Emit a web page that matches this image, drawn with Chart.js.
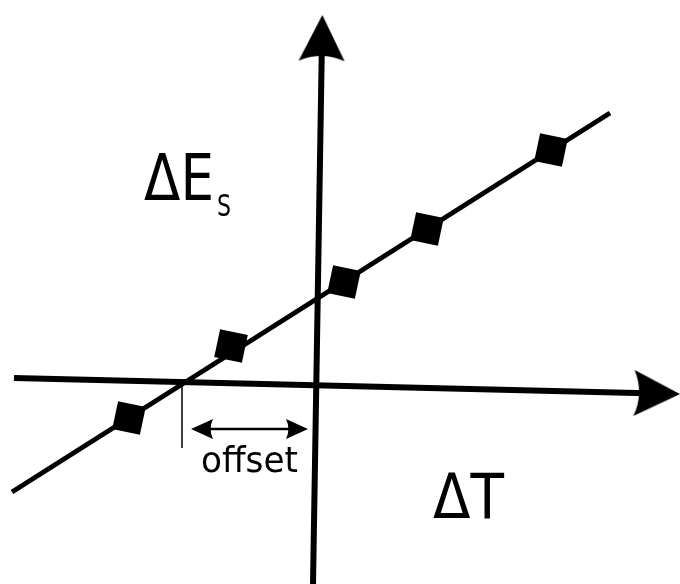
<!DOCTYPE html>
<html>
<head>
<meta charset="utf-8">
<script src="https://cdn.jsdelivr.net/npm/chart.js@4/dist/chart.umd.min.js"></script>
<style>
    body { margin: 0; background: #fff; }
    #wrap { width: 680px; height: 584px; }
</style>
</head>
<body>
<div id="wrap"><canvas id="offsetChart" width="680" height="584"></canvas></div>
<script>
// Dữ liệu đo (ΔT, ΔE_S) - đơn vị tùy ý, gốc ở giao điểm hai trục
const deltaT = [-1.88, -0.86, 0.27, 1.10, 2.34];
const deltaEs = [-0.35, 0.37, 1.01, 1.54, 2.33];

// Đường thẳng khớp
const fitT = [-3.05, 2.93];
const fitE = [-1.09, 2.70];

// Hai trục (hơi nghiêng như bản quét)
const xAxisT = [-3.03, 3.40];
const xAxisE = [0.05, -0.105];
const yAxisT = [-0.04, 0.05];
const yAxisE = [-2.01, 3.45];

// Chú thích "offset"
const offsetTickT = [-1.35, -1.35];
const offsetTickE = [-0.02, -0.65];
const offsetArrowT = [-1.15, -0.20];
const offsetArrowE = [-0.46, -0.46];

// Giới hạn vùng vẽ
const tRange = [-3.17, 3.63];
const eRange = [-2.01, 3.83];

function pairs(xs, ys) {
    return xs.map((x, i) => ({ x: x, y: ys[i] }));
}

// Đầu mũi tên có đuôi lõm, hướng sang phải
function makeArrowHead(len, wid) {
    const c = document.createElement('canvas');
    c.width = len;
    c.height = wid;
    const g = c.getContext('2d');
    g.fillStyle = '#000';
    g.beginPath();
    g.moveTo(len, wid / 2);
    g.lineTo(0, 0);
    g.quadraticCurveTo(len * 0.22, wid / 2, 0, wid);
    g.closePath();
    g.fill();
    return c;
}

const bigHead = makeArrowHead(46, 46);
const smallHead = makeArrowHead(22, 20);

// Vẽ chữ hẹp (font thu ngang)
function drawNarrow(ctx, text, x, y, size, width) {
    ctx.save();
    ctx.font = size + 'px "DejaVu Sans"';
    const w = ctx.measureText(text).width;
    ctx.translate(x, y);
    ctx.scale(width / w, 1);
    ctx.fillStyle = '#000';
    ctx.textBaseline = 'alphabetic';
    ctx.fillText(text, 0, 0);
    ctx.restore();
}

const labelPlugin = {
    id: 'labels',
    afterDraw(chart) {
        const ctx = chart.ctx;
        drawNarrow(ctx, 'ΔE', 144, 200, 64, 70);
        drawNarrow(ctx, 'S', 217, 216, 30, 14);
        drawNarrow(ctx, 'ΔT', 433, 518, 63, 71);
        drawNarrow(ctx, 'offset', 201, 472, 36, 97);
    }
};

const ctx = document.getElementById('offsetChart').getContext('2d');

new Chart(ctx, {
    type: 'scatter',
    data: {
        datasets: [
            {
                label: 'ΔE_S',
                data: pairs(deltaT, deltaEs),
                pointStyle: 'rect',
                pointRadius: 20,
                rotation: 12,
                backgroundColor: '#000',
                borderColor: '#000',
                borderWidth: 0,
                order: 0
            },
            {
                label: 'fit',
                data: pairs(fitT, fitE),
                showLine: true,
                borderColor: '#000',
                borderWidth: 5,
                pointRadius: 0,
                order: 1
            },
            {
                label: 'ΔT axis',
                data: pairs(xAxisT, xAxisE),
                showLine: true,
                borderColor: '#000',
                borderWidth: 6,
                pointStyle: [false, bigHead],
                rotation: [0, 1.4],
                order: 2
            },
            {
                label: 'ΔE axis',
                data: pairs(yAxisT, yAxisE),
                showLine: true,
                borderColor: '#000',
                borderWidth: 6,
                pointStyle: [false, bigHead],
                rotation: [0, -89.1],
                order: 2
            },
            {
                label: 'offset tick',
                data: pairs(offsetTickT, offsetTickE),
                showLine: true,
                borderColor: '#000',
                borderWidth: 1.5,
                pointRadius: 0,
                order: 3
            },
            {
                label: 'offset arrow',
                data: pairs(offsetArrowT, offsetArrowE),
                showLine: true,
                borderColor: '#000',
                borderWidth: 2.5,
                pointStyle: [smallHead, smallHead],
                rotation: [180, 0],
                order: 3
            }
        ]
    },
    options: {
        responsive: false,
        animation: false,
        layout: { padding: 0, autoPadding: false },
        scales: {
            x: { type: 'linear', min: tRange[0], max: tRange[1], display: false },
            y: { type: 'linear', min: eRange[0], max: eRange[1], display: false }
        },
        plugins: {
            legend: { display: false },
            tooltip: { enabled: false }
        }
    },
    plugins: [labelPlugin]
});
</script>
</body>
</html>
